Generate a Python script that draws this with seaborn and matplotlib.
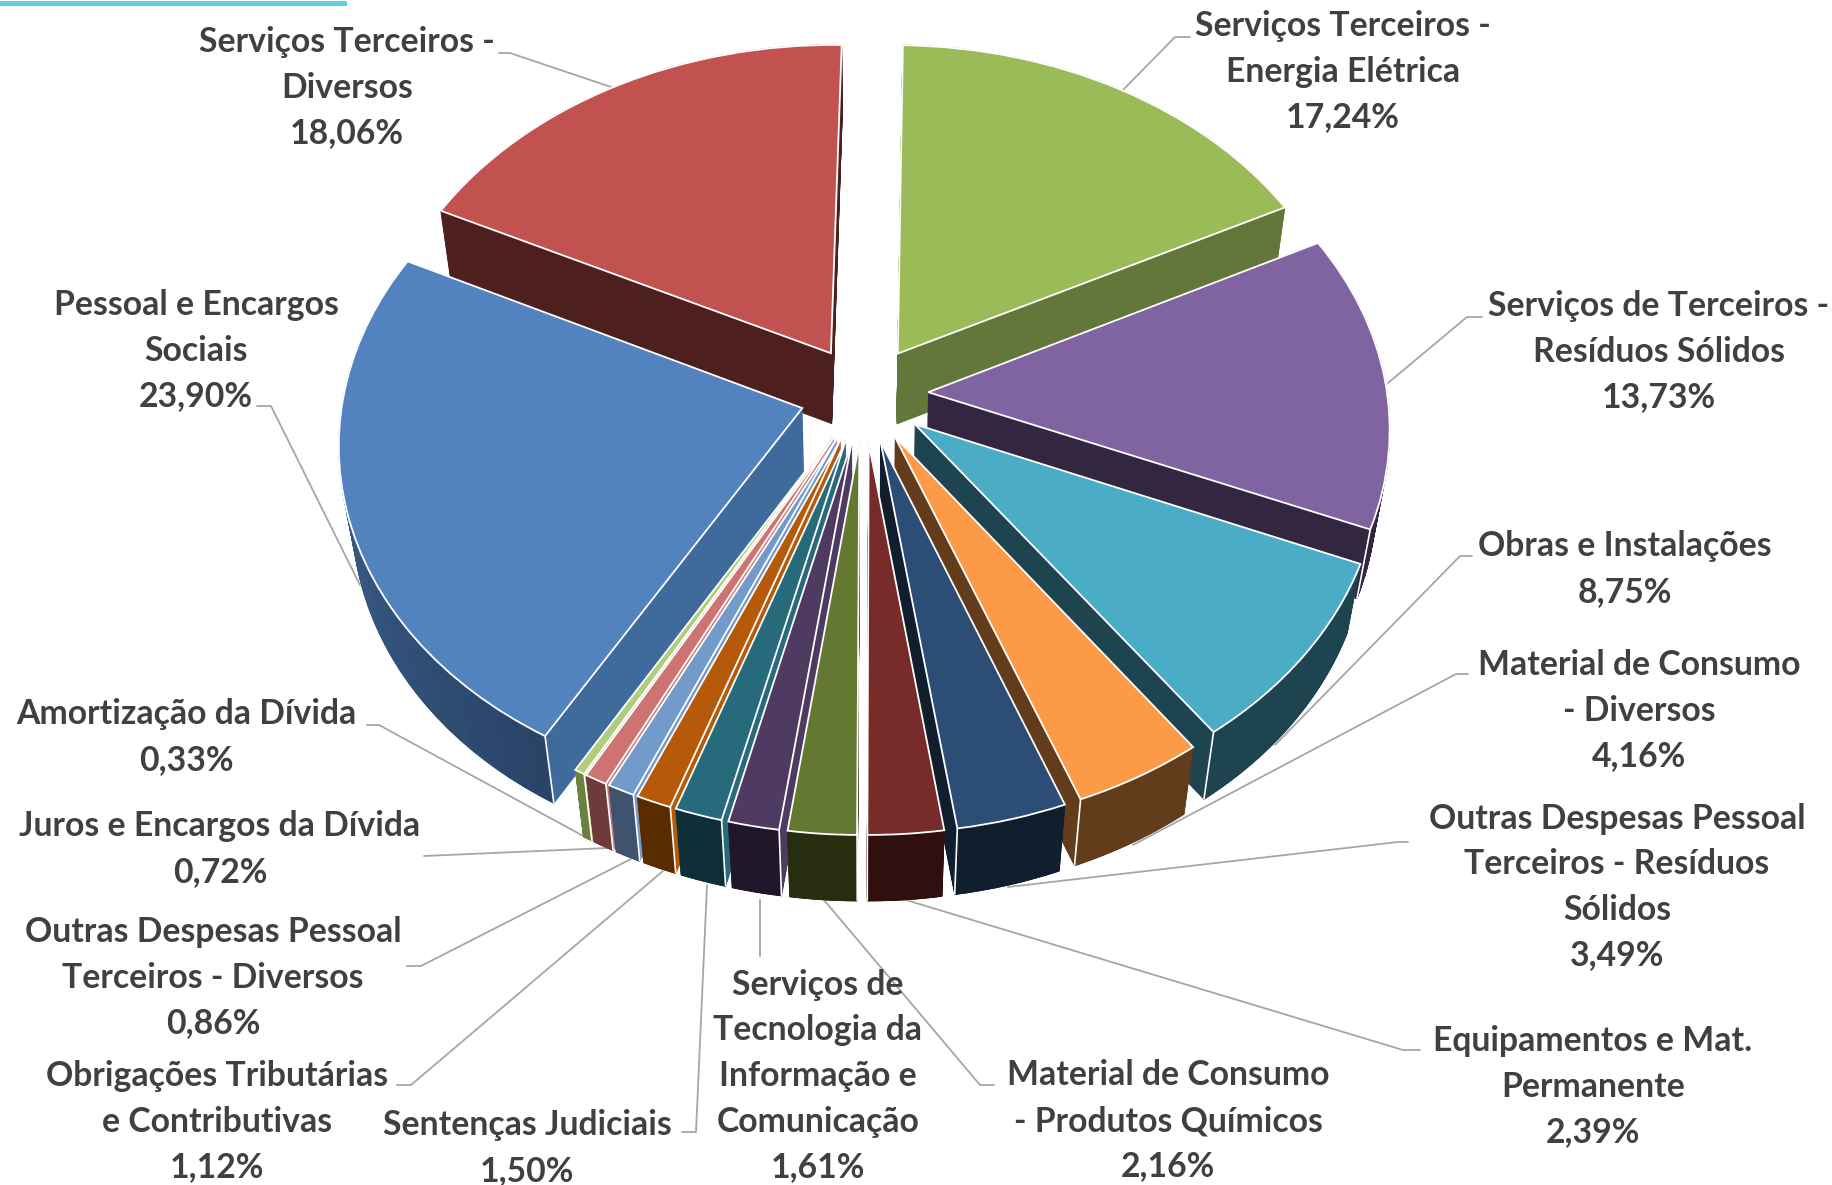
import numpy as np
import matplotlib
matplotlib.use('Agg')
import matplotlib.pyplot as plt
from matplotlib.transforms import Transform
import seaborn as sns

# Data, clockwise from the top
labels = ["Serviços Terceiros -\nEnergia Elétrica", "Serviços de Terceiros -\nResíduos Sólidos",
          "Obras e Instalações", "Material de Consumo\n- Diversos",
          "Outras Despesas Pessoal\nTerceiros - Resíduos\nSólidos", "Equipamentos e Mat.\nPermanente",
          "Material de Consumo\n- Produtos Químicos", "Serviços de\nTecnologia da\nInformação e\nComunicação",
          "Sentenças Judiciais", "Obrigações Tributárias\ne Contributivas",
          "Outras Despesas Pessoal\nTerceiros - Diversos", "Juros e Encargos da Dívida",
          "Amortização da Dívida", "Pessoal e Encargos\nSociais", "Serviços Terceiros -\nDiversos"]
values = [17.24, 13.73, 8.75, 4.16, 3.49, 2.39, 2.16, 1.61, 1.50, 1.12, 0.86, 0.72, 0.33, 23.90, 18.06]

top_colors = ["#9BBB59", "#8064A2", "#4BACC6", "#FC9A48", "#2C4D75", "#772C2A", "#647831", "#4F3B62",
              "#276A7C", "#B65A0A", "#729ACA", "#CD7371", "#B2CC7E", "#5283BE", "#C25250"]
inner_colors = ["#64773A", "#322640", "#1E444F", "#633C1C", "#111E2E", "#300F0F", "#272E10", "#4F3B62",
                "#276A7C", "#B65A0A", "#729ACA", "#CD7371", "#B2CC7E", "#3F6A9C", "#4D1F1E"]
outer_colors = ["#64773A", "#322640", "#1E444F", "#633C1C", "#111E2E", "#300F0F", "#272E10", "#20172B",
                "#0F2F38", "#5A2A00", "#3D536E", "#6E3A3A", "#6C8040", "#426F9F", "#4D1F1E"]
blue_corner = "#2A4468"

# Layout of labels and leader lines, in pixels of the picture
label_pos = [(1343, 72), (1659, 352), (1625, 569), (1639, 711), (1617, 887), (1593, 1087), (1168, 1121),
             (818, 1076), (527, 1148), (217, 1122), (213, 978), (220, 849), (186, 737), (196, 351), (347, 88)]
leaders = [[(1190, 37), (1175, 37), (1122, 91)], [(1482, 317), (1467, 317), (1388, 383)],
           [(1472, 556), (1460, 556), (1275, 745)], [(1468, 674), (1456, 674), (1133, 845)],
           [(1408, 842), (1398, 842), (1008, 887)], [(1420, 1050), (1403, 1050), (906, 900)],
           [(994, 1085), (980, 1085), (824, 900)], [(760, 956), (760, 900)],
           [(682, 1132), (696, 1132), (707, 885)], [(397, 1085), (411, 1085), (663, 871)],
           [(407, 966), (421, 966), (631, 859)], [(424, 856), (608, 848)],
           [(367, 725), (379, 725), (587, 838)], [(257, 406), (271, 406), (360, 585)],
           [(499, 53), (510, 53), (614, 88)]]

# Camera for the tilted pie
CX, CY = 864, 394
RX, RY = 459, 345
PERSP = 0.095
SHRINK = 0.026
DEPTH = 72
EXPLODE = 0.14
START = 88.9
N_LAYERS = 66


class Tilt(Transform):
    input_dims = 2
    output_dims = 2

    def __init__(self, d):
        super().__init__()
        self.d = d

    def transform_non_affine(self, xy):
        xy = np.asarray(xy, dtype=float)
        w = 1 + PERSP * xy[:, 1] + SHRINK * self.d
        return np.column_stack([CX + RX * xy[:, 0] / w, CY - RY * xy[:, 1] / w + DEPTH * self.d / w])


def draw_pie(ax, colors, d, lw, edge=None):
    wedges, _ = ax.pie(values, explode=[EXPLODE] * len(values), colors=colors, startangle=START,
                       counterclock=False, wedgeprops={"linewidth": lw})
    for w, c in zip(wedges, colors):
        w.set_edgecolor(edge if edge else c)
        w.set_transform(Tilt(d) + ax.transData)
    return wedges


sns.set_theme(style="white")
plt.rcParams['font.family'] = ['Lato', 'DejaVu Sans']

fig = plt.figure(figsize=(18.33, 11.85), dpi=100, facecolor="white")
ax = fig.add_axes([0, 0, 1, 1])

# Back slices are painted first
top = draw_pie(ax, top_colors, 0, 1.3, edge="white")
mid_y = []
for w in top:
    mid = np.deg2rad((w.theta1 + w.theta2) / 2)
    mid_y.append(np.sin(mid))
rank = np.argsort(np.argsort(-np.array(mid_y)))
for w in top:
    w.set_zorder(100)

for d in np.linspace(1, 0, N_LAYERS):
    for w, r in zip(draw_pie(ax, inner_colors, d, 0.6), rank):
        w.set_zorder(10 + r)

# Outer rim and the white corner of each slice
for i, w in enumerate(top):
    th = np.deg2rad(np.linspace(w.theta1, w.theta2, 41))
    arc = np.column_stack([w.center[0] + w.r * np.cos(th), w.center[1] + w.r * np.sin(th)])
    up, low = Tilt(0).transform(arc), Tilt(1).transform(arc)
    if i == 13:
        rim = sns.blend_palette([outer_colors[i], blue_corner], len(th) - 1)
    else:
        rim = [outer_colors[i]] * (len(th) - 1)
    for k in range(len(th) - 1):
        poly = np.vstack([up[k:k + 2], low[k:k + 2][::-1]])
        ax.fill(poly[:, 0], poly[:, 1], color=rim[k], lw=0.6, zorder=10 + rank[i] + 0.3)
    j = 0 if arc[0, 1] < arc[-1, 1] else -1
    if arc[j, 1] < 0:
        ax.plot([up[j, 0], low[j, 0]], [up[j, 1], low[j, 1]], color="white", lw=1.2,
                solid_capstyle="butt", zorder=10 + rank[i] + 0.5)

# Leader lines and labels
for pts in leaders:
    ax.plot([p[0] for p in pts], [p[1] for p in pts], color="#A6A6A6", lw=1.3, zorder=5)

for lab, val, pos in zip(labels, values, label_pos):
    txt = lab + "\n" + f"{val:.2f}".replace(".", ",") + "%"
    ax.text(pos[0], pos[1], txt, ha="center", va="center", fontsize=24.3, fontweight="bold",
            color="#404040", linespacing=1.52, zorder=200)

# Accent bar in the top corner
ax.fill_between([0, 347], 1, 6, color="#62CDE3", lw=0, zorder=1)

ax.set_aspect("auto")
ax.set_xlim(0, 1833)
ax.set_ylim(1185, 0)
ax.axis("off")
fig.savefig("out.png", dpi=100, facecolor="white")
plt.close()
